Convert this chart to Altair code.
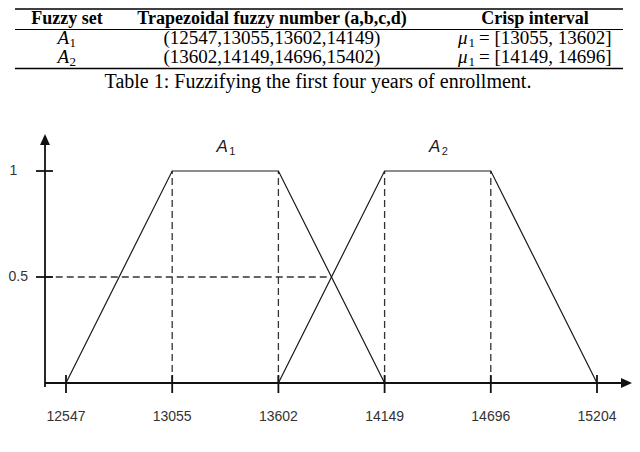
import altair as alt
import pandas as pd

# ---------------- data ----------------
x_ticks = [12547, 13055, 13602, 14149, 14696, 15204]
y_ticks = [0.5, 1]
y_tick_labels = ["0.5", "1"]
set_letters = ["A", "A"]
set_subs = ["1", "2"]
set_a1 = [12547, 13055, 13602, 14149]
set_a2 = [13602, 14149, 14696, 15204]
membership = [0, 1, 1, 0]
alpha_cut = 0.5

table_header = ["Fuzzy set", "Trapezoidal fuzzy number (a,b,c,d)", "Crisp interval"]
table_numbers = ["(12547,13055,13602,14149)", "(13602,14149,14696,15402)"]
table_crisp = ["= [13055, 13602]", "= [14149, 14696]"]
table_caption = "Table 1: Fuzzifying the first four years of enrollment."
figure_caption = "Figure 2: Corresponding membership function."

# ---------------- layout (chart pixel coords) ----------------
W, H = 624, 436
COL_X = [59, 264, 527]
HEAD_Y = 16
ROW_Y = [36, 55]
SANS = "Liberation Sans"
SERIF = "Liberation Serif"
INK = "#1a1a1a"
ORIGIN_XI = -0.2  # y axis position in x-index space

pos = {v: i for i, v in enumerate(x_ticks)}
xs = alt.Scale(domain=[-0.5461, 5.3296], nice=False, zero=False)
ys = alt.Scale(domain=[-0.2877, 1.7689], nice=False, zero=False)
X = lambda f: alt.X(f, type="quantitative", scale=xs, axis=None)
Y = lambda f: alt.Y(f, type="quantitative", scale=ys, axis=None)

sets = {"A1": set_a1, "A2": set_a2}
rows = []
for name, vals in sets.items():
    for k, (v, m) in enumerate(zip(vals, membership)):
        rows.append({"set": name, "ord": k, "xi": pos[v], "mu": m})
lines_df = pd.DataFrame(rows)

vd = sorted({pos[v] for vals in sets.values() for v in vals[1:3]})
vdash_df = pd.DataFrame({"xi": vd, "y0": [0] * len(vd), "y1": [1] * len(vd)})

# crossing of A1 falling edge at alpha cut
c1, d1 = pos[set_a1[2]], pos[set_a1[3]]
x_cross = c1 + (1 - alpha_cut) * (d1 - c1)
hdash_df = pd.DataFrame({"x0": [ORIGIN_XI], "x1": [x_cross], "mu": [alpha_cut]})

ticks_df = pd.DataFrame({"xi": list(range(len(x_ticks))), "lab": [str(v) for v in x_ticks]})
yt_df = pd.DataFrame({"mu": y_ticks, "lab": y_tick_labels})

lab_df = pd.DataFrame({
    "xi": [(pos[v[1]] + pos[v[2]]) / 2 for v in sets.values()],
    "L": set_letters, "S": set_subs,
})

base = alt.Chart(lines_df)

trap = base.mark_line(color=INK, strokeWidth=1.2).encode(
    x=X("xi"), y=Y("mu"), detail="set:N", order="ord:Q")

vdash = alt.Chart(vdash_df).mark_rule(color="#333", strokeWidth=1.3, strokeDash=[7, 4]).encode(
    x=X("xi"), y=Y("y0"), y2="y1")

hdash = alt.Chart(hdash_df).mark_rule(color="#333", strokeWidth=1.3, strokeDash=[7, 4]).encode(
    x=X("x0"), x2="x1", y=Y("mu"))

xaxis = alt.Chart(pd.DataFrame({"a": [0]})).mark_rule(color="#111", strokeWidth=1.8).encode(
    x=alt.value(37), x2=alt.value(616), y=alt.value(375))
yaxis = alt.Chart(pd.DataFrame({"a": [0]})).mark_rule(color="#111", strokeWidth=1.8).encode(
    x=alt.value(37), y=alt.value(379), y2=alt.value(134))
arr_x = alt.Chart(pd.DataFrame({"a": [0]})).mark_point(
    shape="M-1,-0.9L1,0L-1,0.9Z", filled=True, color="#111", opacity=1, size=121).encode(
    x=alt.value(618.5), y=alt.value(375))
arr_y = alt.Chart(pd.DataFrame({"a": [0]})).mark_point(
    shape="M-0.9,1L0,-1L0.9,1Z", filled=True, color="#111", opacity=1, size=121).encode(
    x=alt.value(37), y=alt.value(131.5))

xtick = alt.Chart(ticks_df).mark_rule(color="#111", strokeWidth=1.8).encode(
    x=X("xi"), y=alt.value(367), y2=alt.value(385))
xlab = alt.Chart(ticks_df).mark_text(font=SANS, fontSize=14, color="#333", baseline="middle").encode(
    x=X("xi"), y=alt.value(409), text="lab:N")
ytick = alt.Chart(yt_df).mark_rule(color="#111", strokeWidth=1.8).encode(
    x=alt.value(28), x2=alt.value(45), y=Y("mu"))
ylab1 = alt.Chart(yt_df[yt_df.lab == "1"]).mark_text(font=SANS, fontSize=14, color="#333", baseline="middle", align="center").encode(
    x=alt.value(5.5), y=Y("mu"), text="lab:N")
ylab05 = alt.Chart(yt_df[yt_df.lab == "0.5"]).mark_text(font=SANS, fontSize=14, color="#333", baseline="middle", align="left").encode(
    x=alt.value(0.5), y=Y("mu"), text="lab:N")

setA = alt.Chart(lab_df).mark_text(font=SANS, fontSize=17, fontStyle="italic", color=INK, dx=-3, baseline="alphabetic").encode(
    x=X("xi"), y=alt.value(144), text="L:N")
setS = alt.Chart(lab_df).mark_text(font=SANS, fontSize=11, color=INK, dx=7, baseline="alphabetic").encode(
    x=X("xi"), y=alt.value(146.5), text="S:N")

# ---------------- table ----------------
def txt(s, x, y, size=19, weight="normal", style="normal", align="center", font=SERIF):
    return alt.Chart(pd.DataFrame({"t": [s]})).mark_text(
        font=font, fontSize=size, fontWeight=weight, fontStyle=style, align=align,
        baseline="alphabetic", color="#000").encode(x=alt.value(x), y=alt.value(y), text="t:N")

def hrule(y, w):
    return alt.Chart(pd.DataFrame({"a": [0]})).mark_rule(color="#000", strokeWidth=w).encode(
        x=alt.value(7), x2=alt.value(615), y=alt.value(y))

table_layers = [hrule(1.0, 1.6), hrule(21.5, 1.0), hrule(60.5, 1.6)]
for h, cx in zip(table_header, COL_X):
    table_layers.append(txt(h, cx, HEAD_Y, size=18, weight="bold"))
for i in range(2):
    ry = ROW_Y[i]
    table_layers.append(txt(set_letters[i], COL_X[0] - 9.5, ry, style="italic", align="left"))
    table_layers.append(txt(set_subs[i], COL_X[0] + 2.5, ry + 3, size=13, align="left"))
    table_layers.append(txt(table_numbers[i], COL_X[1], ry))
    table_layers.append(txt("\u03bc", 450, ry, style="italic", align="left"))
    table_layers.append(txt("1", 460.5, ry + 3, size=13, align="left"))
    table_layers.append(txt(table_crisp[i], 471, ry, align="left"))
table_layers.append(txt(table_caption, 310, 79.5, size=20))
table_layers.append(txt(figure_caption, 312, 456, size=20))

chart = alt.layer(
    *table_layers,
    vdash, hdash, trap, xaxis, yaxis, arr_x, arr_y, xtick, xlab, ytick, ylab1, ylab05, setA, setS,
).properties(
    width=W, height=H, autosize=alt.AutoSizeParams(type="none"), padding=0
).configure_view(stroke=None)

chart.save("out.html", embed_options={"renderer": "svg", "actions": False})
